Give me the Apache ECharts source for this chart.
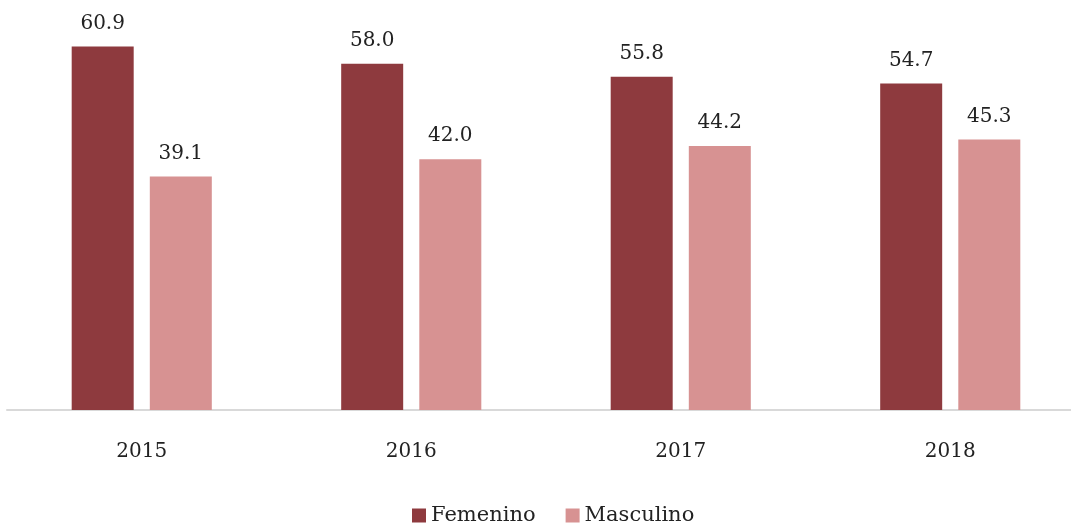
<!DOCTYPE html>
<html><head><meta charset="utf-8">
<script src="https://cdn.jsdelivr.net/npm/echarts@6/dist/echarts.min.js"></script>
<style>html,body{margin:0;padding:0;background:#fff;overflow:hidden;width:1071px;height:527px}#c{width:1085px;height:527px}</style>
</head><body><div id="c"></div>
<script>
const categories = ['2015','2016','2017','2018'];
const femenino = [60.9, 58.0, 55.8, 54.7];
const masculino = [39.1, 42.0, 44.2, 45.3];
const seriesNames = ['Femenino','Masculino'];
const FONT = 'DejaVu Serif';
const chart = echarts.init(document.getElementById('c'));
const lbl = {show:true, position:'top', distance:13, color:'#222', fontFamily:FONT, fontSize:20, formatter:p=>p.value.toFixed(1)};
chart.setOption({
  animation:false,
  textStyle:{fontFamily:FONT},
  grid:{left:7,right:0,top:10,bottom:117},
  legend:{bottom:-4,left:407,itemWidth:14,itemHeight:14,itemGap:30,icon:'rect',
    textStyle:{fontFamily:FONT,fontSize:21,color:'#222'},data:seriesNames},
  xAxis:{type:'category',data:categories,axisTick:{show:false},
    axisLine:{lineStyle:{color:'#d9d9d9',width:2}},
    axisLabel:{margin:32,fontFamily:FONT,fontSize:20,color:'#222'}},
  yAxis:{type:'value',min:0,max:67.0,show:false,splitLine:{show:false}},
  series:[
    {name:seriesNames[0],type:'bar',data:femenino,barWidth:62,barGap:'26%',itemStyle:{color:'#8E3A3E'},label:lbl},
    {name:seriesNames[1],type:'bar',data:masculino,barWidth:62,itemStyle:{color:'#D79292'},label:lbl}
  ]
});
</script></body></html>
